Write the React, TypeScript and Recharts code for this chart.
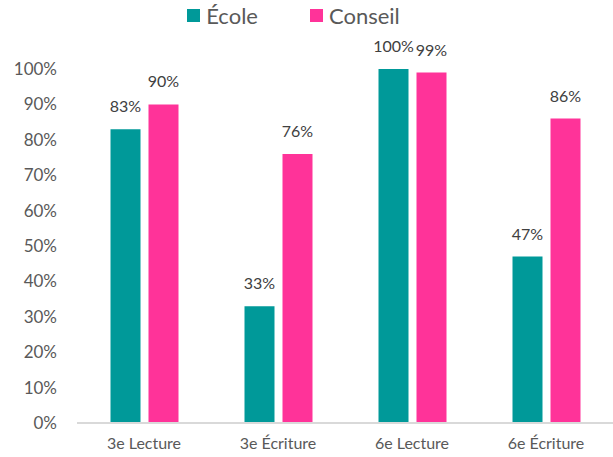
import { BarChart, Bar, XAxis, YAxis, Legend, LabelList } from 'recharts';

// Categories and values (percent)
const categories = ['3e Lecture', '3e Écriture', '6e Lecture', '6e Écriture'];
const ecoleValues = [83, 33, 100, 47];
const conseilValues = [90, 76, 99, 86];
const yTicks = [0, 10, 20, 30, 40, 50, 60, 70, 80, 90, 100];

const data = categories.map((name, i) => ({
  name,
  ecole: ecoleValues[i],
  conseil: conseilValues[i],
}));

const TEAL = '#009999';
const PINK = '#FF3399';
const FONT = 'Lato, "Open Sans", sans-serif';

const legendItems = [
  { label: 'École', color: TEAL },
  { label: 'Conseil', color: PINK },
];

const renderLegend = () => (
  <div style={{ display: 'flex', justifyContent: 'center', gap: 52, fontFamily: FONT, paddingRight: 26 }}>
    {legendItems.map((it) => (
      <div key={it.label} style={{ display: 'flex', alignItems: 'center' }}>
        <span style={{ width: 13, height: 13, background: it.color, marginRight: 6, display: 'inline-block' }} />
        <span style={{ fontSize: 22, color: '#595959' }}>{it.label}</span>
      </div>
    ))}
  </div>
);

const pct = (v: any) => `${v}%`;

export default function App() {
  return (
    <div style={{ position: 'absolute', left: 0, top: 0, background: '#fff' }}>
      <BarChart
        width={613}
        height={457}
        data={data}
        margin={{ top: 42, right: 0, left: 0, bottom: 4 }}
        barCategoryGap="25%"
        barGap={8}
      >
        <Legend verticalAlign="top" align="center" content={renderLegend} wrapperStyle={{ top: 2 }} />
        <XAxis
          dataKey="name"
          axisLine={{ stroke: '#D9D9D9', strokeWidth: 2 }}
          tickLine={false}
          tickMargin={9}
          height={30}
          tick={{ fill: '#595959', fontSize: 16, fontFamily: FONT }}
        />
        <YAxis
          domain={[0, 100]}
          ticks={yTicks}
          tickFormatter={pct}
          axisLine={false}
          tickLine={false}
          tickMargin={14}
          width={77}
          interval={0}
          tick={{ fill: '#595959', fontSize: 17, fontFamily: FONT }}
        />
        <Bar dataKey="ecole" name="École" fill={TEAL} isAnimationActive={false}>
          <LabelList dataKey="ecole" position="top" offset={17} formatter={pct} fill="#404040" fontSize={16} fontFamily={FONT} />
        </Bar>
        <Bar dataKey="conseil" name="Conseil" fill={PINK} isAnimationActive={false}>
          <LabelList dataKey="conseil" position="top" offset={17} formatter={pct} fill="#404040" fontSize={16} fontFamily={FONT} />
        </Bar>
      </BarChart>
    </div>
  );
}
